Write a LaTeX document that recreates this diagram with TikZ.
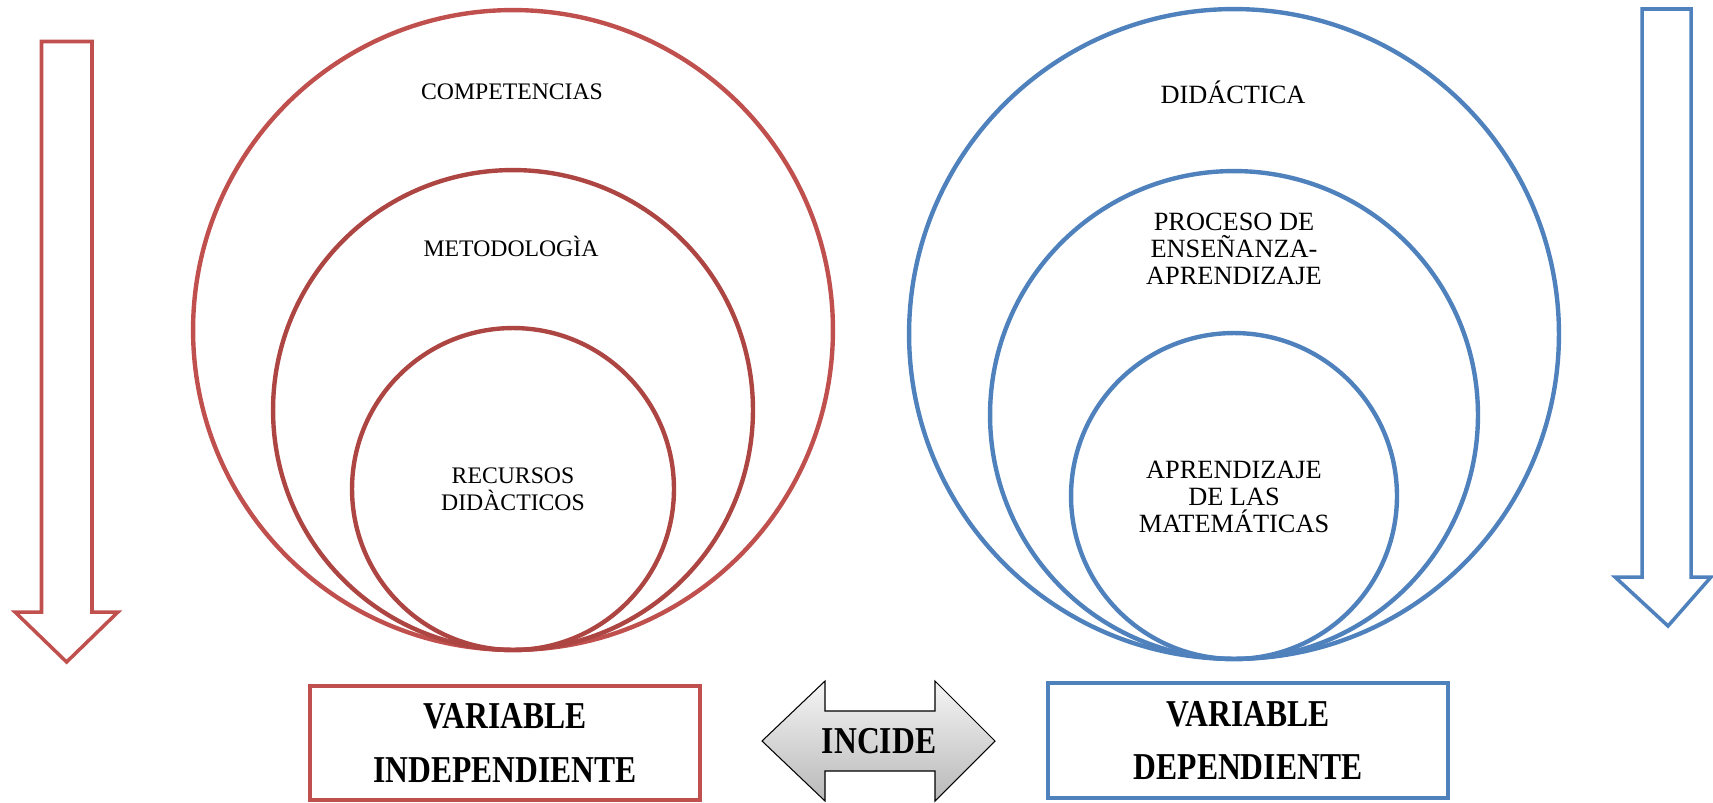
\documentclass[tikz,border=0pt]{standalone}
\usepackage{fontspec}
\setmainfont{Liberation Serif}
\usepackage{color}
\usepackage{tikz}

\definecolor{rojo}{HTML}{C0504D}
\definecolor{rojoos}{HTML}{AD4643}
\definecolor{azul}{HTML}{4F81BD}

\newcommand{\alto}[1]{\scalebox{1}[1.2]{#1}}

\tikzset{
    etiqueta/.style = {align = center, font = \fontsize{13.5}{15.5}\selectfont, inner sep = 0pt},
    etiquetab/.style = {etiqueta, font = \fontsize{15}{15.5}\selectfont},
    caja/.style = {line width = 2.5pt, minimum width = 7.8cm, minimum height = 2.28cm, align = center,
                   font = \fontsize{18}{30.6}\selectfont\bfseries, inner sep = 0pt},
}

\begin{document}
\begin{tikzpicture}[x=0.02cm, y=-0.02cm]
    \def\grosor{2.5pt}
    \def\flecha{2pt}

    \useasboundingbox (0, 0) rectangle (1713, 802);

    % flecha izquierda
    \draw[color = rojo, line width = \flecha, line join = miter]
        (41.5, 41.5) -- (92, 41.5) -- (92, 612) -- (118, 612) -- (66.6, 662)
        -- (15, 612) -- (41.5, 612) -- cycle;

    % flecha derecha
    \draw[color = azul, line width = \flecha, line join = miter]
        (1642, 9) -- (1691, 9) -- (1691, 577) -- (1711, 577) -- (1668, 626)
        -- (1615, 577) -- (1642, 577) -- cycle;

    % circulos variable independiente
    \draw[color = rojo, line width = \grosor] (513, 330) circle (6.4cm);
    \draw[color = rojoos, line width = \grosor] (513, 410) circle (4.8cm);
    \draw[color = rojoos, line width = \grosor] (513, 489) circle (3.22cm);

    % circulos variable dependiente
    \draw[color = azul, line width = \grosor] (1234, 334) circle (6.5cm);
    \draw[color = azul, line width = \grosor] (1234, 415) circle (4.88cm);
    \draw[color = azul, line width = \grosor] (1234, 496) circle (3.26cm);

    \node[etiqueta] (competencias) at (512, 92) {COMPETENCIAS};
    \node[etiqueta] (metodologia) at (511, 246) {METODOLOGÌA};
    \node[etiqueta] (recursos) at (513, 489) {RECURSOS\\DIDÀCTICOS};

    \node[etiquetab] (didactica) at (1233, 92) {DIDÁCTICA};
    \node[etiquetab] (proceso) at (1234, 249) {PROCESO DE\\ENSEÑANZA-\\APRENDIZAJE};
    \node[etiquetab] (aprendizaje) at (1234, 497) {APRENDIZAJE\\DE LAS\\MATEMÁTICAS};

    % cajas
    \node[caja, draw = rojo] (independiente) at (505, 743) {\alto{VARIABLE}\\\alto{INDEPENDIENTE}};
    \node[caja, draw = azul, minimum width = 8cm, minimum height = 2.3cm] (dependiente) at (1248, 740.5)
        {\alto{VARIABLE}\\\alto{DEPENDIENTE}};

    % flecha doble
    \draw[color = black, line width = 0.6pt, top color = gray!8, bottom color = gray!55]
        (762, 741) -- (825, 681) -- (825, 711) -- (935, 711) -- (935, 681) -- (995, 741)
        -- (935, 801) -- (935, 771) -- (825, 771) -- (825, 801) -- cycle;
    \node[font = \fontsize{18}{20}\selectfont\bfseries, inner sep = 0pt] (incide) at (879, 741) {\alto{INCIDE}};

\end{tikzpicture}
\end{document}
